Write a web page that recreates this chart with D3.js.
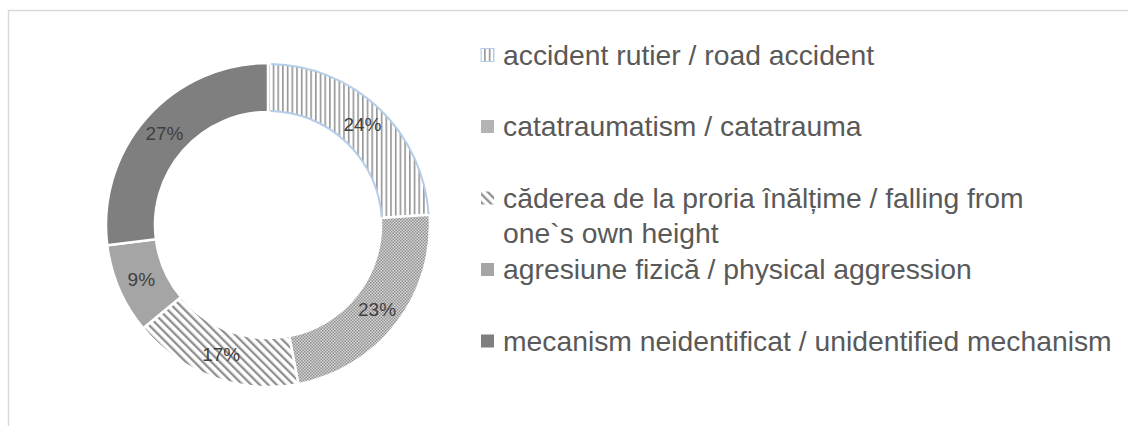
<!DOCTYPE html>
<html><head><meta charset="utf-8">
<script src="https://cdn.jsdelivr.net/npm/d3@7"></script>
<style>html,body{margin:0;padding:0;background:#fff;}svg{display:block;}</style>
</head><body>
<svg id="c" width="1128" height="426"></svg>
<script>
const categories = [
  "accident rutier / road accident",
  "catatraumatism / catatrauma",
  "căderea de la proria înălțime / falling from one`s own height",
  "agresiune fizică / physical aggression",
  "mecanism neidentificat / unidentified mechanism"
];
const legendLines = [
  ["accident rutier / road accident"],
  ["catatraumatism / catatrauma"],
  ["căderea de la proria înălțime / falling from", "one`s own height"],
  ["agresiune fizică / physical aggression"],
  ["mecanism neidentificat / unidentified mechanism"]
];
const values = [24, 23, 17, 9, 27];
const percentLabels = ["24%", "23%", "17%", "9%", "27%"];

const svg = d3.select("#c");
const defs = svg.append("defs");

// patterns
const pV = defs.append("pattern").attr("id","pV").attr("patternUnits","userSpaceOnUse").attr("width",4.7).attr("height",10);
pV.append("rect").attr("width",4.7).attr("height",10).attr("fill","#fff");
pV.append("rect").attr("x",0).attr("width",1.6).attr("height",10).attr("fill","#959595");

const pC = defs.append("pattern").attr("id","pC").attr("patternUnits","userSpaceOnUse").attr("width",3).attr("height",3);
pC.append("rect").attr("width",3).attr("height",3).attr("fill","#d4d4d4");
pC.append("rect").attr("x",0).attr("y",0).attr("width",1.5).attr("height",1.5).attr("fill","#929292");
pC.append("rect").attr("x",1.5).attr("y",1.5).attr("width",1.5).attr("height",1.5).attr("fill","#929292");

const pD = defs.append("pattern").attr("id","pD").attr("patternUnits","userSpaceOnUse").attr("width",6).attr("height",6).attr("patternTransform","rotate(-45)");
pD.append("rect").attr("width",6).attr("height",6).attr("fill","#fff");
pD.append("rect").attr("x",0).attr("width",2.3).attr("height",6).attr("fill","#8f8f8f");

const fills = ["url(#pV)", "url(#pC)", "url(#pD)", "#a5a5a5", "#7f7f7f"];

// chart border
svg.append("rect").attr("x",8.5).attr("y",10.5).attr("width",1130).attr("height",430)
  .attr("fill","none").attr("stroke","#d9d9d9").attr("stroke-width",1.5);

// donut
const cx = 268, cy = 225, rOuter = 162, rInner = 113;
const pie = d3.pie().sort(null).value(d => d);
const arcs = pie(values);
const arc = d3.arc().innerRadius(rInner).outerRadius(rOuter);
const g = svg.append("g").attr("transform", `translate(${cx},${cy})`);
g.selectAll("path.slice").data(arcs).enter().append("path")
  .attr("class","slice")
  .attr("d", arc)
  .attr("fill", (d,i) => fills[i])
  .attr("stroke","#fff").attr("stroke-width",2.5);

// light-blue outline of first slice arcs
const a0 = arcs[0];
[rOuter - 1, rInner + 1].forEach(r => {
  g.append("path")
    .attr("d", d3.arc().innerRadius(r).outerRadius(r)({startAngle: a0.startAngle + 0.02, endAngle: a0.endAngle - 0.005}))
    .attr("fill","none").attr("stroke","#b4cde8").attr("stroke-width",2);
});

const labelArc = d3.arc().innerRadius(138).outerRadius(138);
g.selectAll("text.pl").data(arcs).enter().append("text")
  .attr("class","pl")
  .attr("transform", d => `translate(${labelArc.centroid(d)})`)
  .attr("text-anchor","middle").attr("dy","0.35em")
  .attr("font-family","Liberation Sans, Arial, sans-serif").attr("font-size",19)
  .attr("fill","#404040")
  .text((d,i) => percentLabels[i]);

// legend
const lg = svg.append("g");
const legY0 = 55, legStep = 71.5, markerX = 481, textX = 503, lineH = 35;
const entries = lg.selectAll("g.e").data(categories).enter().append("g").attr("class","e")
  .attr("transform",(d,i) => `translate(0,${legY0 + i*legStep})`);
entries.append("rect").attr("x",markerX).attr("y",-6.5).attr("width",13).attr("height",13)
  .attr("fill",(d,i)=>fills[i])
  .attr("stroke",(d,i)=> i===0 ? "#b4cde8" : "none").attr("stroke-width",1);
entries.each(function(d,i){
  const t = d3.select(this).append("text")
    .attr("font-family","Liberation Sans, Arial, sans-serif").attr("font-size",28.3)
    .attr("fill","#595959");
  legendLines[i].forEach((ln,j)=>{
    t.append("tspan").attr("x",textX).attr("y", j*lineH).attr("dy","0.35em").text(ln);
  });
});
</script>
</body></html>
